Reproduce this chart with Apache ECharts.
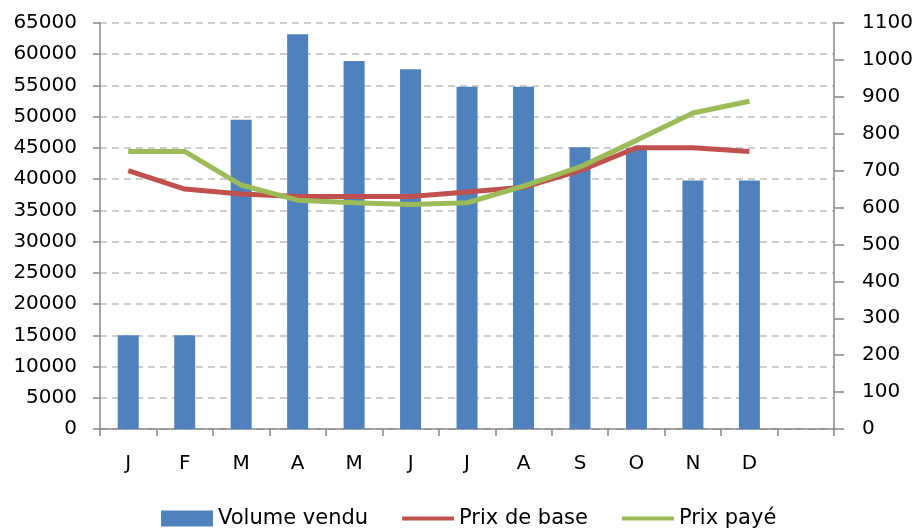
<!DOCTYPE html>
<html>
<head>
<meta charset="utf-8">
<script src="https://cdn.jsdelivr.net/npm/echarts@6/dist/echarts.min.js"></script>
<style>
  html, body { margin: 0; padding: 0; background: #fff; }
  #chart { width: 916px; height: 529px; }
</style>
</head>
<body>
<div id="chart"></div>
<script>
const months = ["J", "F", "M", "A", "M", "J", "J", "A", "S", "O", "N", "D", ""];
const volumeVendu = [15000, 15000, 49500, 63200, 58900, 57600, 54800, 54800, 45100, 45000, 39800, 39800];
const prixBase = [700, 650, 637, 630, 630, 630, 642, 655, 700, 762, 762, 752];
const prixPaye = [752, 752, 661, 620, 613, 608, 613, 658, 710, 782, 856, 888];

const fontFamily = "DejaVu Sans";
const gridColor = "#bfbfbf";
const axisColor = "#888888";
// thin bar used as legend icon for the lines
const lineIcon = "path://M0 0 H13 V1 H0 Z";

const chart = echarts.init(document.getElementById("chart"));

const option = {
  animation: false,
  textStyle: { fontFamily: fontFamily },
  grid: { left: 100, right: 81, top: 23, bottom: 100 },
  legend: {
    top: 508,
    left: 161,
    padding: 0,
    itemGap: 34,
    itemWidth: 52,
    itemHeight: 16,
    symbolKeepAspect: true,
    textStyle: { fontSize: 21, color: "#000", fontFamily: fontFamily },
    data: [
      { name: "Volume vendu", icon: "rect" },
      { name: "Prix de base", icon: lineIcon },
      { name: "Prix payé", icon: lineIcon }
    ]
  },
  xAxis: {
    type: "category",
    data: months,
    boundaryGap: true,
    axisLine: { lineStyle: { color: axisColor, width: 1.5 } },
    axisTick: { show: true, alignWithLabel: false, length: 7, lineStyle: { color: axisColor, width: 1.5 } },
    axisLabel: { color: "#000", fontSize: 20, margin: 25 }
  },
  yAxis: [
    {
      type: "value",
      min: 0,
      max: 65000,
      interval: 5000,
      axisLine: { show: true, lineStyle: { color: axisColor, width: 1.5 } },
      axisTick: { show: true, length: 7, lineStyle: { color: axisColor, width: 1.5 } },
      axisLabel: { color: "#000", fontSize: 20, margin: 23, formatter: v => String(v) },
      splitLine: { lineStyle: { color: gridColor, type: [7, 5], width: 1.5 } }
    },
    {
      type: "value",
      min: 0,
      max: 1100,
      interval: 100,
      position: "right",
      axisLine: { show: true, lineStyle: { color: axisColor, width: 1.5 } },
      axisTick: { show: true, length: 10, inside: false, lineStyle: { color: axisColor, width: 1.5 } },
      axisLabel: { color: "#000", fontSize: 20, margin: 28, formatter: v => String(v) },
      splitLine: { show: false }
    }
  ],
  series: [
    {
      name: "Volume vendu",
      type: "bar",
      data: volumeVendu,
      barWidth: 21,
      itemStyle: { color: "#4f81bd" }
    },
    {
      name: "Prix de base",
      type: "line",
      yAxisIndex: 1,
      data: prixBase,
      symbol: "none",
      lineStyle: { color: "#c0504d", width: 5 },
      itemStyle: { color: "#c0504d" }
    },
    {
      name: "Prix payé",
      type: "line",
      yAxisIndex: 1,
      data: prixPaye,
      symbol: "none",
      lineStyle: { color: "#9bbb59", width: 5 },
      itemStyle: { color: "#9bbb59" }
    }
  ]
};

chart.setOption(option);
</script>
</body>
</html>
